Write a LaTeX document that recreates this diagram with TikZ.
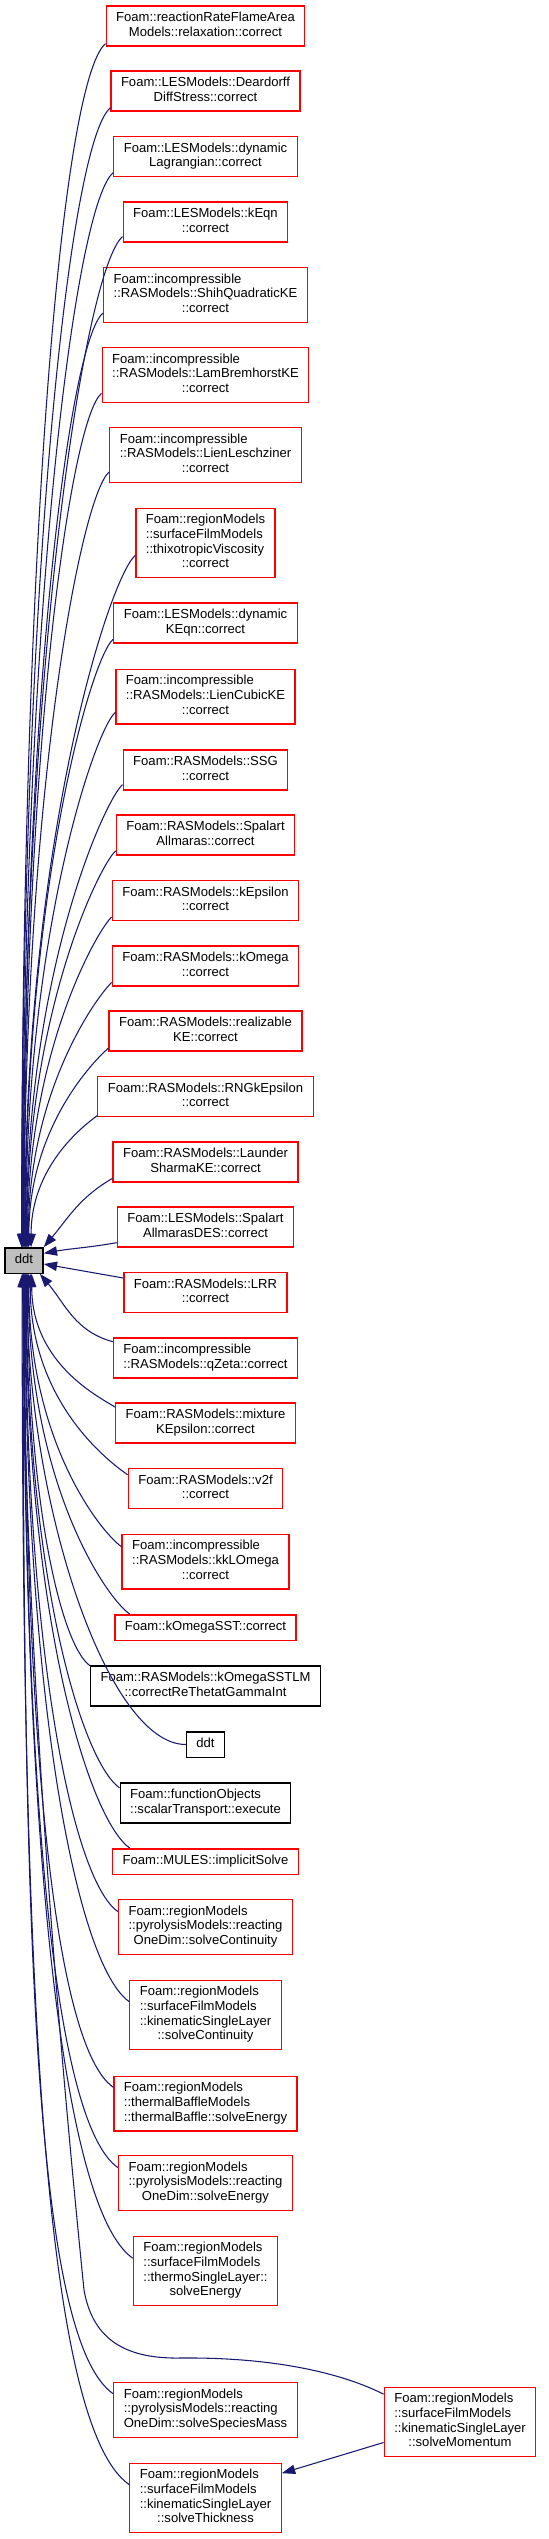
\documentclass[tikz,border=0pt]{standalone}
\usepackage{fontspec}
\setmainfont{Liberation Sans}[Ligatures=NoCommon]
\usepackage{tikz}
\usetikzlibrary{arrows.meta}

\definecolor{edgeblue}{HTML}{191970}
\definecolor{maingray}{HTML}{BFBFBF}

% label: left lines, last line centred
\newcommand{\lbl}[2]{\begin{tabular}{@{}l@{}}#1\\\multicolumn{1}{@{}c@{}}{#2}\end{tabular}}
\newcommand{\lblone}[1]{\begin{tabular}{@{}c@{}}#1\end{tabular}}

\begin{document}
\begin{tikzpicture}[
  x=0.75pt, y=0.75pt,
  fn/.style={draw=red, line width=1pt, fill=white,
             inner xsep=7.5pt, inner ysep=4pt,
             font=\fontsize{9.8pt}{11pt}\selectfont},
  fndoc/.style={fn, draw=black},
  call/.style={draw=edgeblue, line width=0.8pt,
               -{Triangle[length=10pt,width=7pt]}, edgeblue},
  fromabove/.style={out=220, in=90, out looseness=0.12, in looseness=1.5},
  frombelow/.style={out=145, in=-90, out looseness=0.22, in looseness=1.5},
]
\useasboundingbox (0,0) rectangle (549,-2539);

% ---- the function ----
\node[fndoc, fill=maingray] (ddt) at (24,-1260.5) {\lblone{ddt}};

% ---- callers above ----
\node[fn] (n01) at (205.5,-26)   {\lbl{Foam::reactionRateFlameArea}{Models::relaxation::correct}};
\node[fn] (n02) at (205.5,-91)   {\lbl{Foam::LESModels::Deardorff}{DiffStress::correct}};
\node[fn] (n03) at (205.5,-156.5){\lbl{Foam::LESModels::dynamic}{Lagrangian::correct}};
\node[fn] (n04) at (205.5,-222)  {\lbl{Foam::LESModels::kEqn}{::correct}};
\node[fn] (n05) at (205.5,-295)  {\lbl{Foam::incompressible\\::RASModels::ShihQuadraticKE}{::correct}};
\node[fn] (n06) at (205.5,-375)  {\lbl{Foam::incompressible\\::RASModels::LamBremhorstKE}{::correct}};
\node[fn] (n07) at (205.5,-455)  {\lbl{Foam::incompressible\\::RASModels::LienLeschziner}{::correct}};
\node[fn] (n08) at (205.5,-543)  {\lbl{Foam::regionModels\\::surfaceFilmModels\\::thixotropicViscosity}{::correct}};
\node[fn] (n09) at (205.5,-623)  {\lbl{Foam::LESModels::dynamic}{KEqn::correct}};
\node[fn] (n10) at (205.5,-696.5){\lbl{Foam::incompressible\\::RASModels::LienCubicKE}{::correct}};
\node[fn] (n11) at (205.5,-770)  {\lbl{Foam::RASModels::SSG}{::correct}};
\node[fn] (n12) at (205.5,-835)  {\lbl{Foam::RASModels::Spalart}{Allmaras::correct}};
\node[fn] (n13) at (205.5,-900.5){\lbl{Foam::RASModels::kEpsilon}{::correct}};
\node[fn] (n14) at (205.5,-966)  {\lbl{Foam::RASModels::kOmega}{::correct}};
\node[fn] (n15) at (205.5,-1031) {\lbl{Foam::RASModels::realizable}{KE::correct}};
\node[fn] (n16) at (205.5,-1096.5){\lbl{Foam::RASModels::RNGkEpsilon}{::correct}};
\node[fn] (n17) at (205.5,-1162) {\lbl{Foam::RASModels::Launder}{SharmaKE::correct}};
\node[fn] (n18) at (205.5,-1227) {\lbl{Foam::LESModels::Spalart}{AllmarasDES::correct}};

% ---- callers below ----
\node[fn] (n19) at (205.5,-1292.5){\lbl{Foam::RASModels::LRR}{::correct}};
\node[fn] (n20) at (205.5,-1358) {\lbl{Foam::incompressible}{::RASModels::qZeta::correct}};
\node[fn] (n21) at (205.5,-1423) {\lbl{Foam::RASModels::mixture}{KEpsilon::correct}};
\node[fn] (n22) at (205.5,-1488.5){\lbl{Foam::RASModels::v2f}{::correct}};
\node[fn] (n23) at (205.5,-1561.5){\lbl{Foam::incompressible\\::RASModels::kkLOmega}{::correct}};
\node[fn] (n24) at (205.5,-1627.5){\lblone{Foam::kOmegaSST::correct}};
\node[fndoc] (n25) at (205.5,-1686){\lbl{Foam::RASModels::kOmegaSSTLM}{::correctReThetatGammaInt}};
\node[fndoc] (n26) at (205.5,-1744.5){\lblone{ddt}};
\node[fndoc] (n27) at (205.5,-1803){\lbl{Foam::functionObjects}{::scalarTransport::execute}};
\node[fn] (n28) at (205.5,-1861.5){\lblone{Foam::MULES::implicitSolve}};
\node[fn] (n29) at (205.5,-1927) {\lbl{Foam::regionModels\\::pyrolysisModels::reacting}{OneDim::solveContinuity}};
\node[fn] (n30) at (205.5,-2015) {\lbl{Foam::regionModels\\::surfaceFilmModels\\::kinematicSingleLayer}{::solveContinuity}};
\node[fn] (n31) at (205.5,-2103.5){\lbl{Foam::regionModels\\::thermalBaffleModels}{::thermalBaffle::solveEnergy}};
\node[fn] (n32) at (205.5,-2183) {\lbl{Foam::regionModels\\::pyrolysisModels::reacting}{OneDim::solveEnergy}};
\node[fn] (n33) at (205.5,-2271) {\lbl{Foam::regionModels\\::surfaceFilmModels\\::thermoSingleLayer::}{solveEnergy}};
\node[fn] (n34) at (205.5,-2410) {\lbl{Foam::regionModels\\::pyrolysisModels::reacting}{OneDim::solveSpeciesMass}};
\node[fn] (n35) at (460,-2422)   {\lbl{Foam::regionModels\\::surfaceFilmModels\\::kinematicSingleLayer}{::solveMomentum}};
\node[fn] (n36) at (205.5,-2498) {\lbl{Foam::regionModels\\::surfaceFilmModels\\::kinematicSingleLayer}{::solveThickness}};

% ---- calls from above ----
\draw[call] (n01.190) to[fromabove] (ddt.100);
\draw[call] (n02.190) to[fromabove] (ddt.100);
\draw[call] (n03.190) to[fromabove] (ddt.97);
\draw[call] (n04.190) to[fromabove] (ddt.95);
\draw[call] (n05.190) to[fromabove] (ddt.93);
\draw[call] (n06.190) to[fromabove] (ddt.90);
\draw[call] (n07.190) to[fromabove] (ddt.90);
\draw[call] (n08.190) to[fromabove] (ddt.87);
\draw[call] (n09.190) to[fromabove] (ddt.85);
\draw[call] (n10.190) to[fromabove] (ddt.83);
\draw[call] (n11.190) to[fromabove] (ddt.80);
\draw[call] (n12.190) to[fromabove] (ddt.78);
\draw[call] (n13.190) to[fromabove] (ddt.75);
\draw[call] (n14.190) to[fromabove] (ddt.72);
\draw[call] (n15.190) to[fromabove] (ddt.70);
\draw[call] (n16.190) to[fromabove] (ddt.62);
\draw[call] (n17.190) to[out=210, in=50] (ddt.north east);
\draw[call] (n18.190) to[out=190, in=10] (ddt.20);

% ---- calls from below ----
\draw[call] (n19.170) to[out=170, in=-10] (ddt.-10);
\draw[call] (n20.170) to[out=165, in=-50] (ddt.-40);
\draw[call] (n21.170) to[frombelow] (ddt.-60);
\draw[call] (n22.170) to[frombelow] (ddt.-65);
\draw[call] (n23.170) to[frombelow] (ddt.-70);
\draw[call] (n24.170) to[frombelow] (ddt.-72);
\draw[call] (n25.170) to[frombelow] (ddt.-75);
\draw[call] (n26.west) to[out=180, in=-90, out looseness=0.4, in looseness=1.2] (ddt.-78);
\draw[call] (n27.170) to[frombelow] (ddt.-80);
\draw[call] (n28.170) to[frombelow] (ddt.-82);
\draw[call] (n29.170) to[frombelow] (ddt.-84);
\draw[call] (n30.170) to[frombelow] (ddt.-86);
\draw[call] (n31.170) to[frombelow] (ddt.-88);
\draw[call] (n32.170) to[frombelow] (ddt.-90);
\draw[call] (n33.170) to[frombelow] (ddt.-92);
\draw[call] (n34.170) to[frombelow] (ddt.-94);
\draw[call] (n35.160) .. controls (340,-2372) and (270,-2357) .. (180,-2358)
                      .. controls (120,-2359) and (92,-2335) .. (84,-2290)
                      .. controls (70,-2150) and (25,-1700) .. (ddt.-96);
\draw[call] (n36.170) to[frombelow] (ddt.-98);
\draw[call] (n35.195) -- (n36.18);

\end{tikzpicture}
\end{document}
